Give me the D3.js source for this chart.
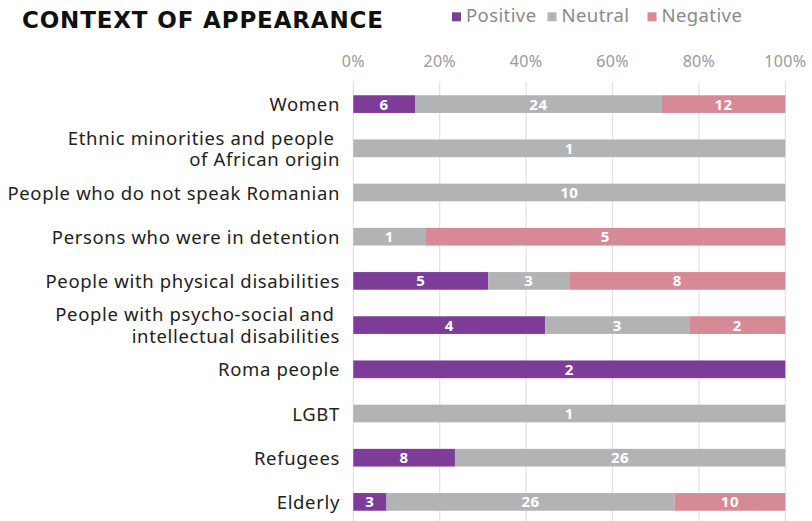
<!DOCTYPE html>
<html>
<head>
<meta charset="utf-8">
<script src="https://cdn.jsdelivr.net/npm/d3@7"></script>
<style>
  html, body { margin: 0; padding: 0; background: #fff; }
  svg { display: block; font-family: 'Noto Sans', sans-serif; }
</style>
</head>
<body>
<svg id="chart" width="812" height="521"></svg>
<script>
const categories = [
  ['Women'],
  ['Ethnic minorities and people\u00a0', 'of African origin'],
  ['People who do not speak Romanian'],
  ['Persons who were in detention'],
  ['People with physical disabilities'],
  ['People with psycho-social and\u00a0', 'intellectual disabilities'],
  ['Roma people'],
  ['LGBT'],
  ['Refugees'],
  ['Elderly'],
];
const positive = [6, 0, 0, 0, 5, 4, 2, 0, 8, 3];
const neutral = [24, 1, 10, 1, 3, 3, 0, 1, 26, 26];
const negative = [12, 0, 0, 5, 8, 2, 0, 0, 0, 10];
const seriesNames = ['Positive', 'Neutral', 'Negative'];
const tickValues = [0, 0.2, 0.4, 0.6, 0.8, 1];

const COLORS = {
  Positive: '#7d3c98',
  Neutral: '#b2b3b5',
  Negative: '#d68a95',
};

const svg = d3.select('#chart');

const rows = categories.map((c, i) => ({
  key: i,
  lines: c,
  Positive: positive[i],
  Neutral: neutral[i],
  Negative: negative[i],
}));

const stack = d3.stack().keys(seriesNames).offset(d3.stackOffsetExpand);
const layers = stack(rows);

const x = d3.scaleLinear().domain([0, 1]).range([353.3, 785.3]);
const y = d3.scaleBand().domain(rows.map((d) => d.key)).range([82, 524]).paddingInner(0.6).paddingOuter(0.3);

// gridlines
svg.append('g')
  .selectAll('line')
  .data(tickValues)
  .join('line')
  .attr('x1', (d) => x(d))
  .attr('x2', (d) => x(d))
  .attr('y1', 82)
  .attr('y2', 521)
  .attr('stroke', '#e1e1e1')
  .attr('stroke-width', 1.2);

// top axis labels
svg.append('g')
  .selectAll('text')
  .data(tickValues)
  .join('text')
  .attr('x', (d) => x(d))
  .attr('y', 66.5)
  .attr('text-anchor', 'middle')
  .attr('font-size', 16)
  .attr('letter-spacing', 0.3)
  .attr('fill', '#9a9a9a')
  .text((d) => d3.format('.0%')(d));

// bars
const layer = svg.append('g')
  .selectAll('g')
  .data(layers)
  .join('g')
  .attr('fill', (d) => COLORS[d.key]);

layer.selectAll('rect')
  .data((d) => d.map((v) => ({ v, key: d.key })))
  .join('rect')
  .attr('x', (d) => x(d.v[0]))
  .attr('width', (d) => x(d.v[1]) - x(d.v[0]))
  .attr('y', (d) => y(d.v.data.key))
  .attr('height', y.bandwidth());

layer.selectAll('text')
  .data((d) => d.map((v) => ({ v, key: d.key })).filter((d) => d.v.data[d.key] > 0))
  .join('text')
  .attr('x', (d) => (x(d.v[0]) + x(d.v[1])) / 2)
  .attr('y', (d) => y(d.v.data.key) + y.bandwidth() / 2)
  .attr('dy', '0.36em')
  .attr('text-anchor', 'middle')
  .attr('font-size', 15)
  .attr('font-weight', 700)
  .attr('letter-spacing', 0.5)
  .attr('fill', '#fff')
  .text((d) => d.v.data[d.key]);

// category labels
const labels = svg.append('g')
  .selectAll('text')
  .data(rows)
  .join('text')
  .attr('text-anchor', 'end')
  .attr('font-size', 18.5)
  .attr('letter-spacing', 0.65)
  .attr('fill', '#222');

labels.selectAll('tspan')
  .data((d) => d.lines.map((l, i) => ({ l, i, n: d.lines.length, key: d.key })))
  .join('tspan')
  .attr('x', 340)
  .attr('y', (d) => y(d.key) + y.bandwidth() / 2 + 7 + (d.i - (d.n - 1) / 2) * 21.5)
  .text((d) => d.l);

// title
svg.append('text')
  .attr('x', 22)
  .attr('y', 28)
  .attr('font-family', 'DejaVu Sans, sans-serif')
  .attr('font-size', 23)
  .attr('font-weight', 700)
  .attr('textLength', 361)
  .attr('lengthAdjust', 'spacing')
  .attr('fill', '#111')
  .text('CONTEXT OF APPEARANCE');

// legend
const legendX = [452, 547.5, 647.5];
const legend = svg.append('g')
  .selectAll('g')
  .data(seriesNames)
  .join('g')
  .attr('transform', (d, i) => `translate(${legendX[i]},0)`);

legend.append('rect')
  .attr('x', 0)
  .attr('y', 12.3)
  .attr('width', 9)
  .attr('height', 9)
  .attr('fill', (d) => COLORS[d]);

legend.append('text')
  .attr('x', 14)
  .attr('y', 21.7)
  .attr('font-size', 18.5)
  .attr('letter-spacing', 0.4)
  .attr('fill', '#8a8a8a')
  .text((d) => d);
</script>
</body>
</html>
